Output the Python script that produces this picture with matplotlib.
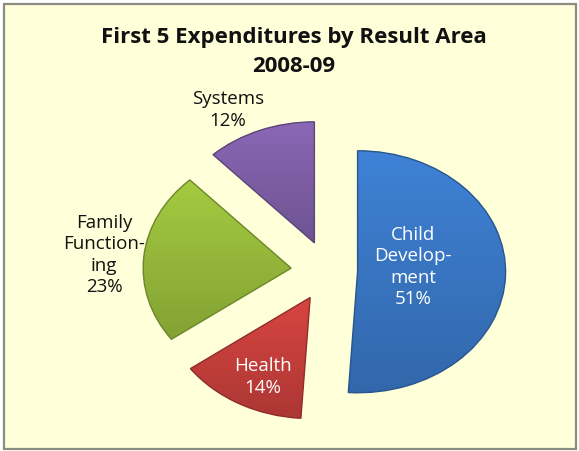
import numpy as np
import matplotlib
matplotlib.use("Agg")
import matplotlib.pyplot as plt
from matplotlib.patches import Rectangle, PathPatch
from matplotlib.colors import to_rgb

categories = ["Child\nDevelop-\nment", "Health", "Family\nFunction-\ning", "Systems"]
values = [51, 14, 23, 12]
colors = ["#3A78C6", "#C8403C", "#98BC3C", "#8060A8"]
explode = [0.2, 0.25, 0.25, 0.25]

W, H = 579, 451
fig = plt.figure(figsize=(W / 100, H / 100), dpi=100)
fig.patch.set_facecolor("white")
bg = Rectangle((4 / W, 2 / H), 572 / W, 445 / H, transform=fig.transFigure,
               facecolor="#FFFFDA", edgecolor="#8C8C80", lw=1.6, zorder=-10)
fig.patches.append(bg)

ax = fig.add_axes([0, 0, 1, 1], zorder=1)
ax.set_facecolor("none")
wedges, _ = ax.pie(values, explode=explode, colors=colors, startangle=90,
                   counterclock=False, radius=1.0,
                   wedgeprops=dict(linewidth=0.8))
sx, sy = 148.0, 121.0
cx, cy = 328.0, H - 271.0

# gradient shading clipped to each wedge
yy = np.linspace(1, 0, 200)[:, None] * np.ones((1, 2))
for w, c in zip(wedges, colors):
    base = np.array(to_rgb(c))
    ext = w.get_path().get_extents()
    t = yy[..., None]
    img = np.clip(base * (0.86 + 0.22 * t), 0, 1)
    im = ax.imshow(img, extent=(ext.x0, ext.x1, ext.y0, ext.y1), aspect="auto",
                   zorder=w.get_zorder() + 0.1, interpolation="bilinear")
    im.set_clip_path(w)
    ax.add_patch(PathPatch(w.get_path(), transform=w.get_transform(),
                           facecolor="none", edgecolor=tuple(base * 0.72),
                           lw=1.0, zorder=w.get_zorder() + 0.2))
ax.set_aspect("auto")
ax.set_xlim(-cx / sx, (W - cx) / sx)
ax.set_ylim(-cy / sy, (H - cy) / sy)
ax.axis("off")

font = "Open Sans"
fig.text(0.508, 1 - 52 / H, "First 5 Expenditures by Result Area\n2008-09", ha="center", va="center",
         fontsize=16, fontweight="bold", family=font, linespacing=1.45, color="#111111")

label_pos = [(413, 267, "white"), (263, 377, "white"), (104, 255, "#111111"), (228, 110, "#111111")]
for cat, v, (px, py, col) in zip(categories, values, label_pos):
    fig.text(px / W, 1 - py / H, f"{cat}\n{v}%", ha="center", va="center", color=col,
             fontsize=13.5, family=font, linespacing=1.22, zorder=5)

fig.savefig("out.png", dpi=100)
